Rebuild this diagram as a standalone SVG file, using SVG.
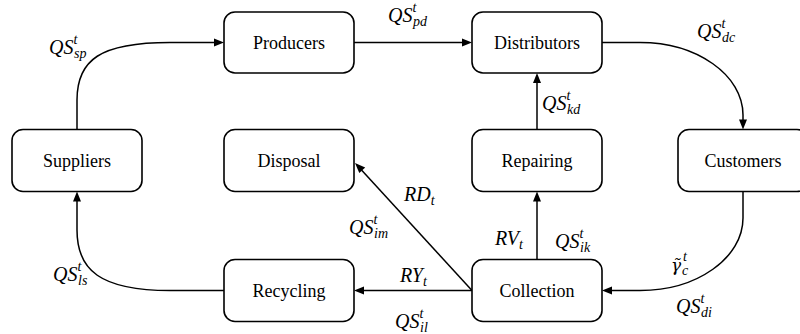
<svg xmlns="http://www.w3.org/2000/svg" width="800" height="334" viewBox="0 0 800 334">
<rect width="800" height="334" fill="#fff"/>
<g id="connectors" fill="none" stroke="#000" stroke-width="1.5">
<path d="M77,129.5 L77,100 C77,60 100,42.5 170,42.5 L215,42.5"/>
<path d="M354,42.5 L463,42.5"/>
<path d="M602,42.5 L640,42.5 C697,42.5 743,75 743,115 L743,120.5"/>
<path d="M537,129.5 L537,82"/>
<path d="M537,259.5 L537,200.5"/>
<path d="M743,191.5 L743,218 C743,258 697,290.5 640,290.5 L611,290.5"/>
<path d="M472,290.5 L363,290.5"/>
<path d="M472,290.5 L361.5,170"/>
<path d="M224,290.5 L170,290.5 C100,290.5 77,270 77,230 L77,200.5"/>
<g fill="#000" stroke="none">
<polygon points="224,42.5 214,38.5 214,46.5"/>
<polygon points="472,42.5 462,38.5 462,46.5"/>
<polygon points="743,129.5 739,119.5 747,119.5"/>
<polygon points="537,73 533,83 541,83"/>
<polygon points="537,191.5 533,201.5 541,201.5"/>
<polygon points="602,290.5 612,286.5 612,294.5"/>
<polygon points="354,290.5 364,286.5 364,294.5"/>
<polygon points="355,163 359.3,173 365.2,167.6"/>
<polygon points="77,191.5 73,201.5 81,201.5"/>
</g>
</g>
<g id="edge-labels">
<text font-family="'Liberation Serif', serif" font-style="italic" font-size="20" x="49" y="54">QS<tspan font-size="14" dy="-10">t</tspan><tspan font-size="14" x="74" dy="14">sp</tspan></text>
<text font-family="'Liberation Serif', serif" font-style="italic" font-size="20" x="388" y="22">QS<tspan font-size="14" dy="-10">t</tspan><tspan font-size="14" x="413" dy="14">pd</tspan></text>
<text font-family="'Liberation Serif', serif" font-style="italic" font-size="20" x="697" y="38">QS<tspan font-size="14" dy="-10">t</tspan><tspan font-size="14" x="722" dy="14">dc</tspan></text>
<text font-family="'Liberation Serif', serif" font-style="italic" font-size="20" x="542" y="110">QS<tspan font-size="14" dy="-10">t</tspan><tspan font-size="14" x="567" dy="14">kd</tspan></text>
<text font-family="'Liberation Serif', serif" font-style="italic" font-size="20" x="404" y="201">RD<tspan font-size="14" dy="4">t</tspan></text>
<text font-family="'Liberation Serif', serif" font-style="italic" font-size="20" x="349" y="234">QS<tspan font-size="14" dy="-10">t</tspan><tspan font-size="14" x="374" dy="14">im</tspan></text>
<text font-family="'Liberation Serif', serif" font-style="italic" font-size="20" x="495" y="245">RV<tspan font-size="14" dy="4">t</tspan></text>
<text font-family="'Liberation Serif', serif" font-style="italic" font-size="20" x="555" y="248">QS<tspan font-size="14" dy="-10">t</tspan><tspan font-size="14" x="580" dy="14">ik</tspan></text>
<text font-family="'Liberation Serif', serif" font-style="italic" font-size="20" x="400" y="282">RY<tspan font-size="14" dy="4">t</tspan></text>
<text font-family="'Liberation Serif', serif" font-style="italic" font-size="20" x="395" y="328">QS<tspan font-size="14" dy="-10">t</tspan><tspan font-size="14" x="420" dy="14">il</tspan></text>
<text font-family="'Liberation Serif', serif" font-style="italic" font-size="20" x="53" y="281">QS<tspan font-size="14" dy="-10">t</tspan><tspan font-size="14" x="78" dy="14">ls</tspan></text>
<text font-family="'DejaVu Serif', serif" font-style="italic" font-size="17" x="671" y="271">γ̃<tspan font-family="'Liberation Serif', serif" font-size="14" x="683" dy="-10">t</tspan><tspan font-family="'Liberation Serif', serif" font-size="14" x="682" dy="14">c</tspan></text>
<text font-family="'Liberation Serif', serif" font-style="italic" font-size="20" x="676" y="313">QS<tspan font-size="14" dy="-10">t</tspan><tspan font-size="14" x="701" dy="14">di</tspan></text>
</g>
<g id="producers"><rect fill="#fff" stroke="#000" stroke-width="1.6" x="224" y="12" width="130" height="61" rx="11"/><text font-family="'Liberation Serif', serif" font-size="18" text-anchor="middle" x="289" y="48.5">Producers</text></g>
<g id="distributors"><rect fill="#fff" stroke="#000" stroke-width="1.6" x="472" y="12" width="130" height="61" rx="11"/><text font-family="'Liberation Serif', serif" font-size="18" text-anchor="middle" x="537" y="48.5">Distributors</text></g>
<g id="suppliers"><rect fill="#fff" stroke="#000" stroke-width="1.6" x="12" y="129.5" width="130" height="62" rx="11"/><text font-family="'Liberation Serif', serif" font-size="18" text-anchor="middle" x="77" y="166.5">Suppliers</text></g>
<g id="disposal"><rect fill="#fff" stroke="#000" stroke-width="1.6" x="224" y="129.5" width="130" height="62" rx="11"/><text font-family="'Liberation Serif', serif" font-size="18" text-anchor="middle" x="289" y="166.5">Disposal</text></g>
<g id="repairing"><rect fill="#fff" stroke="#000" stroke-width="1.6" x="472" y="129.5" width="130" height="62" rx="11"/><text font-family="'Liberation Serif', serif" font-size="18" text-anchor="middle" x="537" y="166.5">Repairing</text></g>
<g id="customers"><rect fill="#fff" stroke="#000" stroke-width="1.6" x="678" y="129.5" width="130" height="62" rx="11"/><text font-family="'Liberation Serif', serif" font-size="18" text-anchor="middle" x="743" y="166.5">Customers</text></g>
<g id="recycling"><rect fill="#fff" stroke="#000" stroke-width="1.6" x="224" y="259.5" width="130" height="62" rx="11"/><text font-family="'Liberation Serif', serif" font-size="18" text-anchor="middle" x="289" y="296.5">Recycling</text></g>
<g id="collection"><rect fill="#fff" stroke="#000" stroke-width="1.6" x="472" y="259.5" width="130" height="62" rx="11"/><text font-family="'Liberation Serif', serif" font-size="18" text-anchor="middle" x="537" y="296.5">Collection</text></g>
</svg>
